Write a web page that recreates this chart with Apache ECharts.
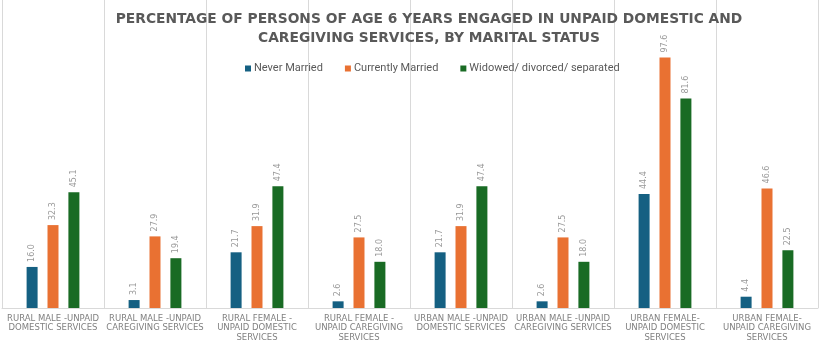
<!DOCTYPE html>
<html>
<head>
<meta charset="utf-8">
<script src="https://cdn.jsdelivr.net/npm/echarts@6/dist/echarts.min.js"></script>
<style>html,body{margin:0;padding:0;background:#fff}#c{width:835px;height:349px}</style>
</head>
<body>
<div id="c"></div>
<script>
const categories = [
  'RURAL MALE -UNPAID\nDOMESTIC SERVICES',
  'RURAL MALE -UNPAID\nCAREGIVING SERVICES',
  'RURAL FEMALE -\nUNPAID DOMESTIC\nSERVICES',
  'RURAL FEMALE -\nUNPAID CAREGIVING\nSERVICES',
  'URBAN MALE -UNPAID\nDOMESTIC SERVICES',
  'URBAN MALE -UNPAID\nCAREGIVING SERVICES',
  'URBAN FEMALE-\nUNPAID DOMESTIC\nSERVICES',
  'URBAN FEMALE-\nUNPAID CAREGIVING\nSERVICES'
];
const neverMarried = [16.0, 3.1, 21.7, 2.6, 21.7, 2.6, 44.4, 4.4];
const currentlyMarried = [32.3, 27.9, 31.9, 27.5, 31.9, 27.5, 97.6, 46.6];
const widowedDivorced = [45.1, 19.4, 47.4, 18.0, 47.4, 18.0, 81.6, 22.5];

const seriesNames = ['Never Married', 'Currently Married', 'Widowed/ divorced/ separated'];
const seriesColors = ['#156082', '#E97132', '#196B24'];
const seriesData = [neverMarried, currentlyMarried, widowedDivorced];

const chart = echarts.init(document.getElementById('c'), null, {renderer: 'canvas'});
chart.setOption({
  animation: false,
  title: {
    text: 'PERCENTAGE OF PERSONS OF AGE 6 YEARS ENGAGED IN UNPAID DOMESTIC AND\nCAREGIVING SERVICES, BY MARITAL STATUS',
    left: 424, top: 5, textAlign: 'center',
    textStyle: {fontFamily: 'DejaVu Sans', fontWeight: 'bold', fontSize: 13.8, color: '#595959', lineHeight: 19}
  },
  legend: {
    top: 58, left: 240,
    itemWidth: 6, itemHeight: 6, itemGap: 22,
    icon: 'rect',
    textStyle: {fontFamily: 'Roboto', fontSize: 11, color: '#595959', padding: [0, 0, 0, -2]},
    data: seriesNames
  },
  grid: {left: 2, right: 17, top: 0, bottom: 41},
  xAxis: {
    type: 'category',
    data: categories,
    axisLine: {lineStyle: {color: '#d9d9d9'}},
    axisTick: {show: false},
    splitLine: {show: true, lineStyle: {color: '#d9d9d9', width: 1}},
    axisLabel: {
      interval: 0, margin: 6,
      fontFamily: 'DejaVu Sans', fontSize: 8.5, color: '#808080', lineHeight: 9.5
    }
  },
  yAxis: {type: 'value', min: 0, max: 120, show: false, splitLine: {show: false}},
  series: seriesData.map((d, i) => ({
    name: seriesNames[i],
    type: 'bar',
    data: d,
    barWidth: 11,
    barGap: '90%',
    itemStyle: {color: seriesColors[i]},
    label: {
      show: true, position: 'top', rotate: 90, distance: 5,
      align: 'left', verticalAlign: 'middle',
      formatter: p => p.value.toFixed(1),
      fontFamily: 'DejaVu Sans', fontSize: 8, color: '#999999'
    }
  }))
});
</script>
</body>
</html>
